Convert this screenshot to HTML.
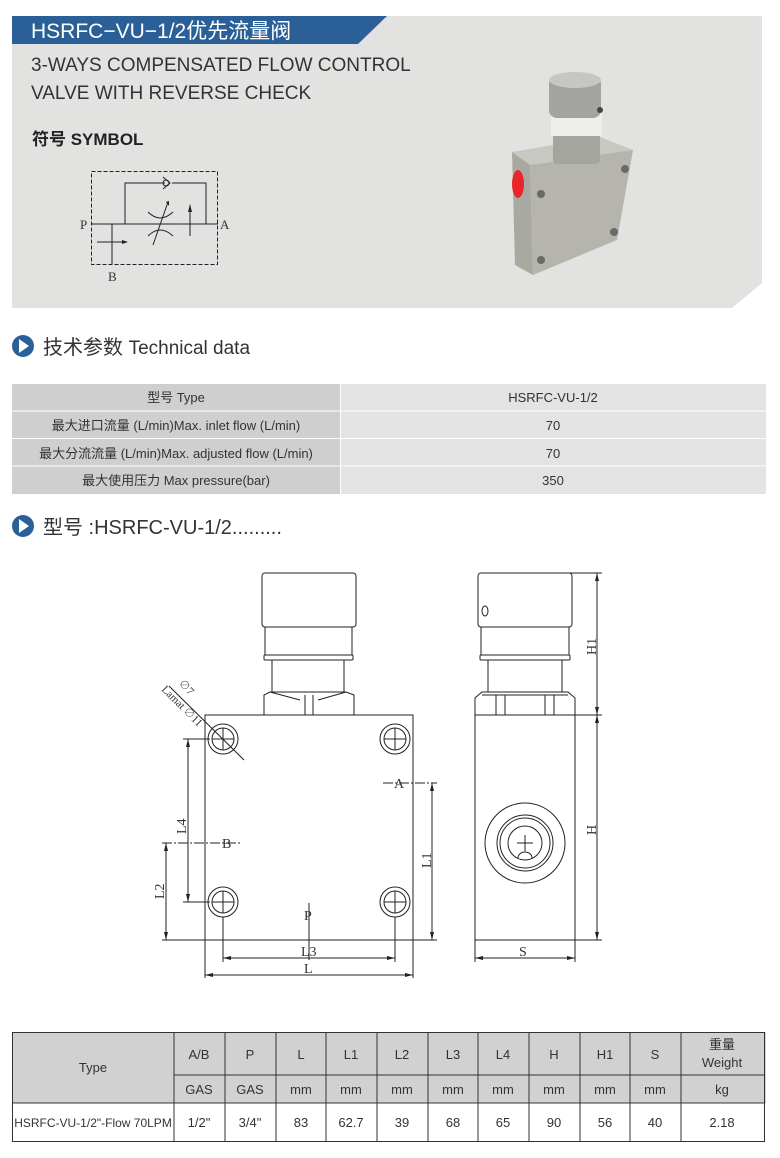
<!DOCTYPE html>
<html><head><meta charset="utf-8"><style>
body{margin:0;background:#fff;}
svg{display:block}
text{font-family:"Liberation Sans","Noto Sans CJK SC",sans-serif;}
text.s{font-family:"Liberation Serif","Noto Serif CJK SC",serif;}
</style></head><body>
<svg width="780" height="1158" viewBox="0 0 780 1158" xmlns="http://www.w3.org/2000/svg">
<!-- top panel -->
<polygon points="12,16 762,16 762,283 732,308 12,308" fill="#e2e2e1"/>
<polygon points="12,16 387,16 358,44 12,44" fill="#2a5f97"/>
<text x="31" y="38" font-size="21" fill="#fff">HSRFC−VU−1/2优先流量阀</text>
<text x="31" y="71" font-size="19" fill="#333">3-WAYS COMPENSATED FLOW CONTROL</text>
<text x="31" y="99" font-size="19" fill="#333">VALVE WITH REVERSE CHECK</text>
<text x="32" y="145" font-size="17" font-weight="bold" fill="#222">符号 SYMBOL</text>
<!-- symbol -->
<g stroke="#222" fill="none" stroke-width="1">
<rect x="91.5" y="171.5" width="126" height="93" stroke-dasharray="4,2"/>
<line x1="91" y1="224" x2="218" y2="224"/>
<polyline points="125,224 125,183 165,183"/>
<polyline points="172,183 206,183 206,224"/>
<circle cx="166" cy="183" r="3"/>
<polyline points="163,177 170,183 163,189"/>
<line x1="112" y1="224" x2="112" y2="264"/>
<line x1="97" y1="242" x2="125" y2="242"/>
<path d="M148,212 Q160,224 173,212"/>
<path d="M148,236 Q160,224 173,236"/>
<line x1="153" y1="245" x2="168" y2="202"/>
<line x1="190" y1="205" x2="190" y2="236"/>
</g>
<polygon points="122,240 128,242 122,244" fill="#222"/>
<polygon points="166,202 169,201 169,206" fill="#222"/>
<polygon points="188,212 190,204 192,212" fill="#222"/>
<text class="s" x="80" y="229" font-size="13" fill="#333">P</text>
<text class="s" x="220" y="229" font-size="13" fill="#333">A</text>
<text class="s" x="108" y="281" font-size="13" fill="#333">B</text>
<!-- photo -->
<g>
<polygon points="512,152 600,137 633,150 530,165" fill="#c8c8c2"/>
<polygon points="512,152 530,165 533,275 515,265" fill="#a9a9a2"/>
<polygon points="530,165 633,150 617,240 533,275" fill="#b5b5ae"/>
<ellipse cx="518" cy="184" rx="6" ry="14" fill="#e8262a"/>
<rect x="553" y="132" width="47" height="32" rx="4" fill="#a5a59f"/>
<rect x="551" y="112" width="51" height="24" fill="#eeeeec"/>
<rect x="549" y="76" width="52" height="42" rx="8" fill="#a3a4a0"/>
<ellipse cx="575" cy="80" rx="26" ry="8" fill="#c6c6c2"/>
<circle cx="600" cy="110" r="3" fill="#444"/>
<circle cx="541" cy="194" r="4" fill="#6a6a66"/><circle cx="625" cy="169" r="4" fill="#6a6a66"/>
<circle cx="541" cy="260" r="4" fill="#6a6a66"/><circle cx="614" cy="232" r="4" fill="#6a6a66"/>
</g>
<!-- section heads -->
<circle cx="23" cy="346" r="11" fill="#2a5f97"/>
<polygon points="19,339 29,346 19,353" fill="#fff"/>
<text x="43" y="354" font-size="20" fill="#333">技术参数 <tspan font-size="19">Technical data</tspan></text>
<circle cx="23" cy="526" r="11" fill="#2a5f97"/>
<polygon points="19,519 29,526 19,533" fill="#fff"/>
<text x="43" y="534" font-size="20" fill="#333">型号 :HSRFC-VU-1/2.........</text>
<!-- tech table -->
<g>
<rect x="12" y="384" width="328" height="26.5" fill="#cfcfcf"/><rect x="341" y="384" width="425" height="26.5" fill="#e3e3e3"/>
<rect x="12" y="411.5" width="328" height="26.5" fill="#cfcfcf"/><rect x="341" y="411.5" width="425" height="26.5" fill="#e3e3e3"/>
<rect x="12" y="439" width="328" height="26.5" fill="#cfcfcf"/><rect x="341" y="439" width="425" height="26.5" fill="#e3e3e3"/>
<rect x="12" y="466.5" width="328" height="27.5" fill="#cfcfcf"/><rect x="341" y="466.5" width="425" height="27.5" fill="#e3e3e3"/>
</g>
<g font-size="13" fill="#333" text-anchor="middle">
<text x="176" y="402">型号 Type</text><text x="553" y="402">HSRFC-VU-1/2</text>
<text x="176" y="430">最大进口流量 (L/min)Max. inlet flow (L/min)</text><text x="553" y="430">70</text>
<text x="176" y="458">最大分流流量 (L/min)Max. adjusted flow (L/min)</text><text x="553" y="458">70</text>
<text x="176" y="485">最大使用压力 Max pressure(bar)</text><text x="553" y="485">350</text>
</g>
<!-- drawing -->
<g stroke="#222" fill="none" stroke-width="1">
<rect x="262" y="573" width="94" height="54" rx="3"/>
<rect x="265" y="627" width="87" height="28"/>
<rect x="264" y="655" width="89" height="5" rx="1"/>
<rect x="272" y="660" width="72" height="32"/>
<path d="M264,715 L264,695 L270,692 L346,692 L354,695 L354,715"/>
<line x1="305" y1="695" x2="305" y2="715"/><line x1="313" y1="695" x2="313" y2="715"/>
<line x1="270" y1="692" x2="300" y2="700"/><line x1="346" y1="692" x2="318" y2="700"/>
<rect x="205" y="715" width="208" height="225"/>
<circle cx="223" cy="739" r="15"/><circle cx="223" cy="739" r="11"/>
<circle cx="395" cy="739" r="15"/><circle cx="395" cy="739" r="11"/>
<circle cx="223" cy="902" r="15"/><circle cx="223" cy="902" r="11"/>
<circle cx="395" cy="902" r="15"/><circle cx="395" cy="902" r="11"/>
<line x1="212" y1="739" x2="234" y2="739"/><line x1="223" y1="728" x2="223" y2="750"/>
<line x1="384" y1="739" x2="406" y2="739"/><line x1="395" y1="728" x2="395" y2="750"/>
<line x1="212" y1="902" x2="234" y2="902"/><line x1="223" y1="891" x2="223" y2="913"/>
<line x1="384" y1="902" x2="406" y2="902"/><line x1="395" y1="891" x2="395" y2="913"/>
<line x1="169" y1="686" x2="244" y2="760"/>
<line x1="183" y1="739" x2="210" y2="739"/><line x1="183" y1="902" x2="210" y2="902"/>
<line x1="188" y1="739" x2="188" y2="902"/>
<line x1="162" y1="843" x2="242" y2="843" stroke-dasharray="10,2,2,2"/>
<line x1="166" y1="843" x2="166" y2="940"/>
<line x1="162" y1="940" x2="205" y2="940"/>
<line x1="383" y1="783" x2="437" y2="783" stroke-dasharray="10,2,2,2"/>
<line x1="432" y1="783" x2="432" y2="940"/><line x1="413" y1="940" x2="437" y2="940"/>
<line x1="309" y1="903" x2="309" y2="960"/>
<line x1="223" y1="917" x2="223" y2="962"/><line x1="395" y1="917" x2="395" y2="962"/>
<line x1="223" y1="958" x2="395" y2="958"/>
<line x1="205" y1="940" x2="205" y2="978"/><line x1="413" y1="940" x2="413" y2="978"/>
<line x1="205" y1="975" x2="413" y2="975"/>
<rect x="478" y="573" width="94" height="54" rx="3"/>
<rect x="481" y="627" width="88" height="28"/>
<rect x="480" y="655" width="90" height="5" rx="1"/>
<rect x="488" y="660" width="74" height="32"/>
<path d="M475,715 L475,698 L482,692 L568,692 L575,698 L575,715"/>
<line x1="496" y1="695" x2="496" y2="715"/><line x1="505" y1="695" x2="505" y2="715"/>
<line x1="545" y1="695" x2="545" y2="715"/><line x1="554" y1="695" x2="554" y2="715"/>
<line x1="482" y1="695" x2="568" y2="695"/>
<ellipse cx="485" cy="611" rx="3" ry="5"/>
<rect x="475" y="715" width="100" height="225"/>
<circle cx="525" cy="843" r="40"/><circle cx="525" cy="843" r="28"/><circle cx="525" cy="843" r="25"/><circle cx="525" cy="843" r="17"/>
<line x1="517" y1="843" x2="533" y2="843"/><line x1="525" y1="835" x2="525" y2="851"/>
<path d="M518,858 A7,6 0 0 1 532,858"/>
<line x1="570" y1="573" x2="602" y2="573"/><line x1="575" y1="715" x2="602" y2="715"/><line x1="575" y1="940" x2="602" y2="940"/>
<line x1="597" y1="573" x2="597" y2="940"/>
<line x1="475" y1="940" x2="475" y2="962"/><line x1="575" y1="940" x2="575" y2="962"/>
<line x1="475" y1="958" x2="575" y2="958"/>
</g>
<g fill="#222">
<polygon points="186,747 188,739 190,747"/><polygon points="186,894 188,902 190,894"/>
<polygon points="164,851 166,843 168,851"/><polygon points="164,932 166,940 168,932"/>
<polygon points="430,791 432,783 434,791"/><polygon points="430,932 432,940 434,932"/>
<polygon points="231,956 223,958 231,960"/><polygon points="387,956 395,958 387,960"/>
<polygon points="213,973 205,975 213,977"/><polygon points="405,973 413,975 405,977"/>
<polygon points="595,581 597,573 599,581"/><polygon points="595,707 597,715 599,707"/><polygon points="595,723 597,715 599,723"/><polygon points="595,932 597,940 599,932"/>
<polygon points="483,956 475,958 483,960"/><polygon points="567,956 575,958 567,960"/>
</g>
<g font-size="14" fill="#333">
<text class="s" x="394" y="788">A</text><text class="s" x="222" y="848">B</text><text class="s" x="304" y="920">P</text>
<text class="s" x="301" y="956">L3</text><text class="s" x="304" y="973">L</text><text class="s" x="519" y="956">S</text>
<text class="s" transform="translate(186,834) rotate(-90)">L4</text>
<text class="s" transform="translate(164,899) rotate(-90)">L2</text>
<text class="s" transform="translate(431,868) rotate(-90)">L1</text>
<text class="s" transform="translate(596,655) rotate(-90)">H1</text>
<text class="s" transform="translate(596,835) rotate(-90)">H</text>
<text class="s" transform="translate(178,684) rotate(45)" font-size="11">∅7</text>
<text class="s" transform="translate(161,690) rotate(45)" font-size="11">Lamat ∅11</text>
</g>
<!-- bottom table -->
<rect x="12" y="1032" width="754" height="71" fill="#d1d1d1"/>
<g stroke="#333" stroke-width="1" fill="none">
<rect x="12.5" y="1032.5" width="752" height="109"/>
<line x1="174" y1="1075" x2="765" y2="1075"/>
<line x1="12" y1="1103" x2="765" y2="1103"/>
<line x1="174" y1="1032" x2="174" y2="1142"/><line x1="225" y1="1032" x2="225" y2="1142"/>
<line x1="276" y1="1032" x2="276" y2="1142"/><line x1="326" y1="1032" x2="326" y2="1142"/>
<line x1="377" y1="1032" x2="377" y2="1142"/><line x1="428" y1="1032" x2="428" y2="1142"/>
<line x1="478" y1="1032" x2="478" y2="1142"/><line x1="529" y1="1032" x2="529" y2="1142"/>
<line x1="580" y1="1032" x2="580" y2="1142"/><line x1="630" y1="1032" x2="630" y2="1142"/>
<line x1="681" y1="1032" x2="681" y2="1142"/>
</g>
<g font-size="13" fill="#333" text-anchor="middle">
<text x="93" y="1072">Type</text>
<text x="199" y="1059">A/B</text><text x="250" y="1059">P</text><text x="301" y="1059">L</text><text x="351" y="1059">L1</text>
<text x="402" y="1059">L2</text><text x="453" y="1059">L3</text><text x="503" y="1059">L4</text><text x="554" y="1059">H</text>
<text x="605" y="1059">H1</text><text x="655" y="1059">S</text>
<text x="722" y="1049">重量</text><text x="722" y="1067">Weight</text>
<text x="199" y="1094">GAS</text><text x="250" y="1094">GAS</text><text x="301" y="1094">mm</text><text x="351" y="1094">mm</text>
<text x="402" y="1094">mm</text><text x="453" y="1094">mm</text><text x="503" y="1094">mm</text><text x="554" y="1094">mm</text>
<text x="605" y="1094">mm</text><text x="655" y="1094">mm</text><text x="722" y="1094">kg</text>
<text x="93" y="1127" font-size="12">HSRFC-VU-1/2"-Flow 70LPM</text>
<text x="199" y="1127">1/2"</text><text x="250" y="1127">3/4"</text><text x="301" y="1127">83</text><text x="351" y="1127">62.7</text>
<text x="402" y="1127">39</text><text x="453" y="1127">68</text><text x="503" y="1127">65</text><text x="554" y="1127">90</text>
<text x="605" y="1127">56</text><text x="655" y="1127">40</text><text x="722" y="1127">2.18</text>
</g>
</svg>
</body></html>
